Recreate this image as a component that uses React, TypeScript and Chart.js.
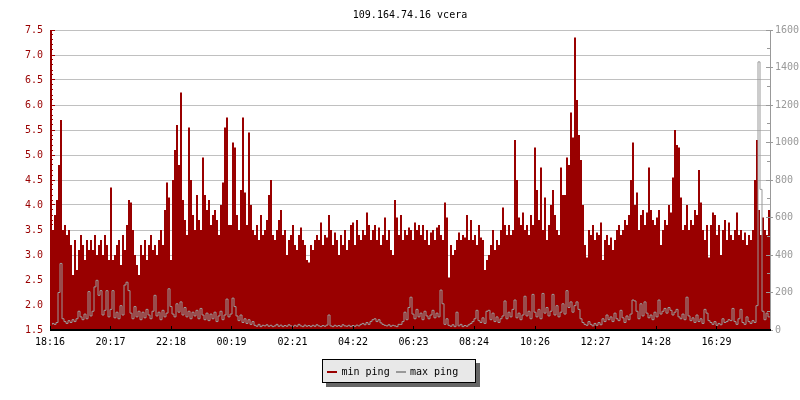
import React, { useEffect, useRef } from "react";
import { Chart, registerables } from "chart.js";

Chart.register(...registerables);

const TITLE = "109.164.74.16 vcera";
const SERIES_NAMES = ["min ping", "max ping"];
const TIME_LABELS = ["18:16", "20:17", "22:18", "00:19", "02:21", "04:22", "06:23", "08:24", "10:26", "12:27", "14:28", "16:29"];
const START_TIME = "18:16";
const SPAN_MINUTES = 1440;
const LEFT_RANGE = [1.5, 7.5];
const LEFT_STEP = 0.5;
const RIGHT_RANGE = [0, 1600];
const RIGHT_STEP = 200;

// min ping (ms, left axis), one value per 4 minutes
const MIN_PING = [
  3.9, 3.5, 3.8, 4.1, 4.8, 5.7, 3.5, 3.6, 3.4, 3.5,
  3.2, 2.6, 3.3, 2.7, 3.1, 3.4, 3.2, 2.9, 3.3, 3.1,
  3.3, 3.1, 3.4, 3.0, 3.2, 3.3, 3.0, 3.4, 3.2, 2.9,
  4.35, 2.9, 3.0, 3.2, 3.3, 2.8, 3.4, 3.1, 3.6, 4.1,
  4.05, 3.5, 3.0, 2.8, 2.6, 3.2, 3.0, 3.3, 2.9, 3.2,
  3.4, 3.1, 3.2, 3.0, 3.3, 3.5, 3.2, 3.9, 4.45, 4.15,
  2.9, 4.5, 5.1, 5.6, 4.8, 6.25, 4.1, 3.7, 3.4, 5.55,
  4.5, 3.8, 3.5, 4.2, 3.7, 3.5, 4.95, 4.2, 3.9, 4.1,
  3.6, 3.8, 3.9, 3.7, 3.4, 4.0, 4.45, 5.55, 5.75, 3.6,
  3.6, 5.25, 5.15, 3.8, 3.5, 4.3, 5.75, 4.25, 3.6, 5.45,
  4.0, 3.5, 3.4, 3.6, 3.3, 3.8, 3.4, 3.5, 3.7, 4.2,
  4.5, 3.4, 3.3, 3.5, 3.7, 3.9, 3.4, 3.5, 3.0, 3.3,
  3.4, 3.6, 3.2, 3.1, 3.4, 3.55, 3.3, 3.2, 2.9, 2.85,
  3.2, 3.1, 3.3, 3.4, 3.3, 3.65, 3.2, 3.4, 3.35, 3.8,
  3.5, 3.2, 3.45, 3.3, 3.0, 3.4, 3.2, 3.5, 3.1, 3.3,
  3.6, 3.65, 3.2, 3.7, 3.4, 3.3, 3.5, 3.4, 3.85, 3.6,
  3.3, 3.5, 3.6, 3.3, 3.55, 3.2, 3.4, 3.75, 3.3, 3.5,
  3.1, 3.0, 4.1, 3.75, 3.4, 3.8, 3.3, 3.5, 3.4, 3.55,
  3.5, 3.3, 3.65, 3.5, 3.6, 3.4, 3.6, 3.3, 3.5, 3.2,
  3.45, 3.5, 3.3, 3.55, 3.6, 3.4, 3.3, 4.05, 3.75, 2.55,
  3.2, 3.0, 3.1, 3.3, 3.45, 3.3, 3.4, 3.35, 3.8, 3.3,
  3.7, 3.3, 3.4, 3.2, 3.6, 3.35, 3.3, 2.7, 2.9, 3.0,
  3.2, 3.5, 3.1, 3.3, 3.2, 3.5, 3.95, 3.6, 3.4, 3.6,
  3.4, 3.5, 5.3, 4.5, 3.75, 3.6, 3.85, 3.5, 3.6, 3.4,
  3.8, 3.6, 5.15, 4.3, 3.7, 4.75, 3.5, 4.15, 3.3, 3.6,
  4.0, 4.3, 3.8, 3.5, 3.4, 4.75, 4.2, 4.2, 4.95, 4.8,
  5.85, 5.35, 7.35, 6.1, 5.4, 4.9, 4.0, 3.2, 2.95, 3.5,
  3.4, 3.6, 3.3, 3.45, 3.4, 3.65, 2.9, 3.3, 3.4, 3.2,
  3.35, 3.1, 3.3, 3.5, 3.6, 3.4, 3.5, 3.7, 3.6, 3.8,
  4.5, 5.25, 4.0, 4.25, 3.5, 3.8, 3.9, 3.6, 3.85, 4.75,
  3.9, 3.7, 3.6, 3.75, 3.9, 3.2, 3.5, 3.7, 3.6, 4.0,
  3.85, 4.55, 5.5, 5.2, 5.15, 4.15, 3.5, 3.6, 4.0, 3.5,
  3.7, 3.6, 3.9, 3.8, 4.7, 4.05, 3.5, 3.3, 3.6, 2.95,
  3.6, 3.85, 3.8, 3.4, 3.6, 3.0, 3.5, 3.7, 3.3, 3.65,
  3.4, 3.3, 3.5, 3.85, 3.4, 3.5, 3.3, 3.45, 3.2, 3.4,
  3.3, 3.5, 4.5, 5.3, 3.9, 3.4, 3.75, 3.5, 3.4, 3.9,
];

// max ping (ms, right axis), one value per 4 minutes
const MAX_PING = [
  25, 35, 30, 40, 200, 355, 60, 45, 35, 50,
  40, 55, 45, 60, 100, 70, 55, 85, 60, 205,
  75, 100, 230, 265, 185, 210, 80, 105, 210, 70,
  110, 210, 65, 95, 60, 130, 80, 240, 255, 210,
  90, 60, 125, 70, 100, 55, 95, 65, 110, 80,
  60, 100, 185, 75, 95, 55, 105, 70, 90, 220,
  125, 85, 70, 140, 95, 150, 80, 120, 70, 100,
  60, 95, 75, 105, 60, 115, 80, 55, 90, 50,
  85, 60, 95, 45, 75, 100, 55, 80, 165, 70,
  85, 170, 125, 75, 50, 80, 40, 60, 35, 55,
  30, 45, 25, 20, 30, 18, 25, 22, 28, 20,
  25, 18, 22, 30, 20, 26, 18, 24, 20, 28,
  22, 18, 25, 20, 30, 22, 18, 26, 20, 24,
  18, 25, 20, 28, 22, 18, 24, 20, 26, 80,
  22, 18, 25, 20, 24, 18, 28, 22, 20, 25,
  18, 24, 20, 26, 22, 30, 35, 28, 40, 30,
  45, 55, 60, 45, 55, 38, 30, 25, 22, 28,
  20, 25, 22, 18, 30, 30, 45, 95, 55, 120,
  175, 85, 60, 110, 70, 90, 55, 100, 75, 60,
  80, 105, 65, 90, 70, 213, 140, 30, 60, 25,
  20, 28, 18, 95, 22, 30, 18, 24, 20, 28,
  35, 45, 60, 105, 50, 40, 65, 35, 100, 105,
  55, 90, 45, 70, 40, 60, 75, 155, 60, 95,
  70, 110, 160, 65, 90, 55, 80, 180, 75, 100,
  60, 190, 95, 70, 110, 60, 195, 90, 120, 75,
  100, 190, 80, 130, 70, 95, 140, 85, 210, 120,
  150, 95, 130, 150, 110, 60, 40, 30, 25, 45,
  30, 22, 35, 25, 40, 28, 60, 45, 80, 55,
  70, 45, 90, 60, 50, 105, 65, 40, 75, 55,
  85, 160, 155, 100, 60, 140, 75, 150, 90, 65,
  80, 55, 95, 70, 160, 85, 100, 115, 90, 120,
  105, 80, 95, 110, 70, 60, 85, 55, 175, 75,
  50, 65, 40, 80, 45, 60, 35, 110, 90, 50,
  40, 30, 45, 25, 35, 28, 60, 40, 45, 55,
  50, 115, 45, 30, 60, 110, 40, 30, 70, 45,
  35, 50, 40, 130, 1430, 750, 100, 55, 90, 70,
];

const RED = "#990000";
const GRAY = "#999999";
const FONT_FAMILY = '"DejaVu Sans Mono", monospace';
const FONT = { family: FONT_FAMILY, size: 10 };

const toMin = (s: string) => {
  const [h, m] = s.split(":").map(Number);
  return h * 60 + m;
};
const TICK_MINUTES = TIME_LABELS.map((l) => (toMin(l) - toMin(START_TIME) + 1440) % 1440);

const toPoints = (vals: number[]) => {
  const step = SPAN_MINUTES / vals.length;
  const pts = vals.map((v, i) => ({ x: i * step + step / 2, y: v }));
  return [{ x: 0, y: vals[0] }, ...pts, { x: SPAN_MINUTES, y: vals[vals.length - 1] }];
};

const decorPlugin = {
  id: "decor",
  afterDraw(chart: any) {
    const { ctx, chartArea: a, scales } = chart;
    const ys = scales.y;
    const y1s = scales.y1;
    const xs = scales.x;
    ctx.save();
    // left axis
    ctx.fillStyle = RED;
    ctx.fillRect(a.left, a.top, 2, a.bottom - a.top);
    const nLeft = Math.round((LEFT_RANGE[1] - LEFT_RANGE[0]) / 0.1);
    for (let k = 0; k <= nLeft; k++) {
      const v = LEFT_RANGE[0] + k * 0.1;
      const py = Math.floor(ys.getPixelForValue(v));
      ctx.fillRect(a.left, py, k % 5 === 0 ? 5 : 3, 1);
    }
    // right axis
    ctx.fillStyle = GRAY;
    ctx.fillRect(a.right, a.top, 1, a.bottom - a.top + 1);
    const nRight = Math.round((RIGHT_RANGE[1] - RIGHT_RANGE[0]) / 100);
    for (let k = 0; k <= nRight; k++) {
      const v = RIGHT_RANGE[0] + k * 100;
      const py = Math.floor(y1s.getPixelForValue(v));
      if (k % 2 === 0) ctx.fillRect(a.right - 4, py, 7, 1);
      else ctx.fillRect(a.right - 3, py, 3, 1);
    }
    // bottom axis
    ctx.fillStyle = "#000";
    ctx.fillRect(a.left, a.bottom - 1, a.right - a.left + 1, 2);
    TICK_MINUTES.forEach((m) => {
      const px = Math.floor(xs.getPixelForValue(m));
      ctx.fillRect(px, a.bottom - 4, 1, 4);
    });
    // title
    ctx.font = `10px ${FONT_FAMILY}`;
    ctx.fillStyle = "#000";
    ctx.textAlign = "center";
    ctx.textBaseline = "alphabetic";
    ctx.fillText(TITLE, (a.left + a.right) / 2, 17.5);
    // legend
    const bx = 322, by = 359, bw = 154, bh = 24;
    ctx.fillStyle = "#666666";
    ctx.fillRect(bx + 4, by + 4, bw, bh);
    ctx.fillStyle = "#e8e8e8";
    ctx.fillRect(bx, by, bw, bh);
    ctx.strokeStyle = "#000";
    ctx.lineWidth = 1;
    ctx.strokeRect(bx + 0.5, by + 0.5, bw - 1, bh - 1);
    ctx.textAlign = "left";
    ctx.fillStyle = RED;
    ctx.fillRect(327, 371, 10, 2);
    ctx.fillStyle = "#000";
    ctx.fillText(SERIES_NAMES[0], 341.5, 375);
    ctx.fillStyle = GRAY;
    ctx.fillRect(396, 371, 10, 2);
    ctx.fillStyle = "#000";
    ctx.fillText(SERIES_NAMES[1], 410, 375);
    ctx.restore();
  },
};

export default function App() {
  const ref = useRef<HTMLCanvasElement>(null);
  useEffect(() => {
    const chart = new Chart(ref.current as HTMLCanvasElement, {
      type: "line",
      data: {
        datasets: [
          {
            label: SERIES_NAMES[1],
            data: toPoints(MAX_PING),
            yAxisID: "y1",
            borderColor: GRAY,
            borderWidth: 1,
            pointRadius: 0,
            fill: false,
            stepped: "middle",
            order: 0,
          },
          {
            label: SERIES_NAMES[0],
            data: toPoints(MIN_PING),
            yAxisID: "y",
            borderColor: "rgba(0,0,0,0)",
            backgroundColor: RED,
            borderWidth: 1,
            pointRadius: 0,
            fill: "start",
            stepped: "middle",
            order: 1,
          },
        ],
      } as any,
      options: {
        animation: false,
        responsive: false,
        events: [],
        layout: { padding: { top: 30, left: 0, right: 0, bottom: 0 } },
        plugins: {
          legend: { display: false },
          title: { display: false },
          tooltip: { enabled: false },
        },
        scales: {
          x: {
            type: "linear",
            min: 0,
            max: SPAN_MINUTES,
            afterFit: (s: any) => {
              s.height = 70;
            },
            afterBuildTicks: (s: any) => {
              s.ticks = TICK_MINUTES.map((v) => ({ value: v }));
            },
            grid: { display: false, drawTicks: false },
            border: { display: false },
            ticks: {
              autoSkip: false,
              maxRotation: 0,
              padding: 6,
              color: "#000",
              font: FONT,
              callback: (_v: any, i: number) => TIME_LABELS[i],
            },
          },
          y: {
            position: "left",
            min: LEFT_RANGE[0],
            max: LEFT_RANGE[1],
            afterFit: (s: any) => {
              s.width = 50;
            },
            grid: { color: "#c0c0c0", drawTicks: false },
            border: { display: false },
            ticks: {
              stepSize: LEFT_STEP,
              color: RED,
              font: FONT,
              padding: 7,
              callback: (v: any) => Number(v).toFixed(1),
            },
          },
          y1: {
            position: "right",
            min: RIGHT_RANGE[0],
            max: RIGHT_RANGE[1],
            afterFit: (s: any) => {
              s.width = 30;
            },
            grid: { drawOnChartArea: false, drawTicks: false },
            border: { display: false },
            ticks: {
              stepSize: RIGHT_STEP,
              color: GRAY,
              font: FONT,
              padding: 5,
              callback: (v: any) => String(Math.round(Number(v))),
            },
          },
        },
      } as any,
      plugins: [decorPlugin],
    });
    return () => chart.destroy();
  }, []);
  return (
    <div style={{ position: "fixed", left: 0, top: 0, width: 800, height: 400, background: "#fff" }}>
      <canvas ref={ref} width={800} height={400} style={{ display: "block" }} />
    </div>
  );
}
